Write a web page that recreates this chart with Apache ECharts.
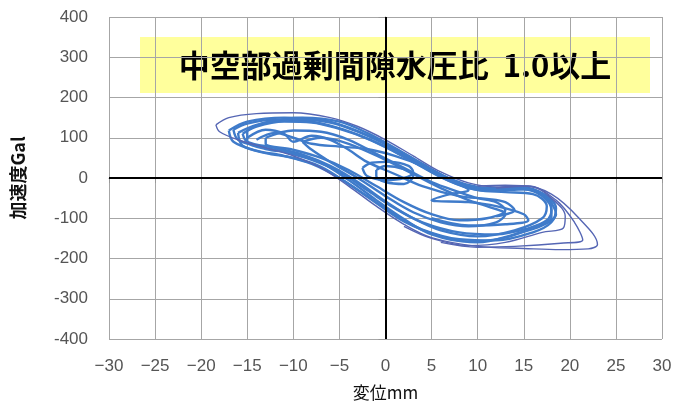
<!DOCTYPE html>
<html>
<head>
<meta charset="utf-8">
<script src="https://cdn.jsdelivr.net/npm/echarts@6/dist/echarts.min.js"></script>
<style>
  html, body { margin: 0; padding: 0; background: #fff; }
  #chart { width: 675px; height: 404px; }
</style>
</head>
<body>
<div id="chart"></div>
<script>
// 軸目盛
var xMin = -30, xMax = 30, xStep = 5;
var yMin = -400, yMax = 400, yStep = 100;

// ループ（変位mm, 加速度Gal）- 図から読み取り
var loopOuter = [[-18.4,132],[-17,150],[-14,160],[-10,162],[-6,150],[-3,128],[0,95],[3,55],[6,15],[9,-12],[12,-22],[15,-20],[18,-40],[21,-100],[23,-165],[22,-176],[19,-178],[15,-175],[10,-170],[5,-148],[2,-115],[-1,-70],[-4,-20],[-7,25],[-10,55],[-13,75],[-16,95],[-18,115],[-18.4,132]];
var loopMain1 = [[-16.5,120],[-15,135],[-12,145],[-9,143],[-6,130],[-3,108],[0,78],[3,40],[6,2],[9,-25],[12,-32],[15,-28],[17,-45],[18,-80],[17.5,-105],[15.5,-125],[12,-140],[8,-135],[4,-110],[1,-75],[-2,-30],[-5,15],[-8,45],[-11,65],[-14,80],[-16,95],[-16.5,120]];
var loopMain2 = [[-15.5,110],[-14,128],[-11,140],[-8,138],[-5,122],[-2,98],[1,65],[4,28],[7,-8],[10,-30],[13,-35],[16,-40],[17.5,-70],[17,-100],[14,-130],[10,-145],[6,-130],[3,-100],[0,-58],[-3,-10],[-6,30],[-9,58],[-12,75],[-15,90],[-15.5,110]];
var loopMain3 = [[-17,118],[-15,140],[-11,150],[-7,145],[-4,125],[-1,95],[2,58],[5,20],[8,-12],[11,-28],[14,-22],[16.5,-32],[18.5,-75],[18,-110],[16,-135],[12,-155],[8,-152],[4,-128],[1,-92],[-2,-45],[-5,0],[-8,35],[-11,55],[-14,68],[-16.5,90],[-17,118]];
var loopMain4 = [[-16,112],[-14,132],[-10,146],[-6,138],[-3,115],[0,85],[3,48],[6,8],[9,-20],[12,-30],[15,-25],[17.5,-50],[18.5,-90],[17,-118],[14,-140],[10,-160],[6,-145],[2,-108],[-1,-62],[-4,-15],[-7,28],[-10,50],[-13,62],[-15.5,80],[-16,112]];
var loopMain5 = [[-15,118],[-13,138],[-9,150],[-5,140],[-2,112],[1,75],[4,35],[7,-2],[10,-22],[13,-26],[16,-30],[18,-62],[18,-98],[16,-122],[13,-148],[9,-158],[5,-140],[2,-102],[-1,-55],[-4,-5],[-7,38],[-10,62],[-13,72],[-15,92],[-15,118]];
var loopRight1 = [[10,-20],[13,-18],[16,-22],[18,-50],[19.5,-95],[19.3,-124],[17,-135],[13,-160],[9,-168],[5,-150],[2,-120]];
var loopRight2 = [[12,-25],[15.5,-20],[18.5,-55],[20.5,-110],[21.4,-154],[19,-162],[14,-170],[10,-172],[6,-160]];
var loopInner1 = [[-13,100],[-10,118],[-7,115],[-4,95],[-1,60],[2,25],[5,-10],[8,-35],[10,-50],[12,-60],[13,-80],[11,-100],[8,-105],[5,-90],[2,-60],[-1,-20],[-4,20],[-7,50],[-10,70],[-13,85],[-13,100]];
var loopInner2 = [[-9,90],[-7,100],[-4,85],[0,45],[3,10],[6,-25],[9,-55],[11,-70],[13,-90],[12,-110],[9,-120],[6,-110],[3,-85],[0,-45],[-3,0],[-6,40],[-8,70],[-9,90]];
var loopInner3 = [[-14,95],[-12,112],[-10,100],[-8,85],[-5,78],[-2,72],[1,55],[4,30],[7,-5],[9,-30],[7,-40],[5,-55],[9,-60],[12,-70],[15,-90],[15.5,-105],[13,-115],[9,-118],[5,-100]];
var loopInner4 = [[-15,100],[-13,120],[-11,110],[-10,90],[-8,105],[-6,95],[-4,70],[-2,40],[1,10],[4,-20],[8,-45],[11,-52],[13,-60],[14,-80],[12,-95]];
var loopOrigin1 = [[-2.5,25],[-1.5,38],[0.5,40],[2.5,30],[3,15],[2,0],[0,-5],[-2,5],[-2.5,25]];
var loopOrigin2 = [[-1,20],[0,30],[2,22],[3,5],[2,-15],[0,-10],[-1,5],[-1,20]];

var mainLoops = [loopMain1, loopMain2, loopMain3, loopMain4, loopMain5, loopInner1, loopInner2, loopInner3, loopInner4, loopOrigin1, loopOrigin2];
var thinLoops = [loopOuter, loopRight1, loopRight2];

var chart = echarts.init(document.getElementById('chart'));

var series = [];
mainLoops.forEach(function (d) {
  series.push({
    type: 'line', data: d, smooth: 0.35, symbol: 'none',
    lineStyle: { color: '#3f7bca', width: 2.4 }
  });
});
thinLoops.forEach(function (d) {
  series.push({
    type: 'line', data: d, smooth: 0.35, symbol: 'none',
    lineStyle: { color: '#5566b4', width: 1.4 }
  });
});
// 原点の十字線
series.push({
  type: 'line', data: [], silent: true,
  markLine: {
    symbol: 'none', silent: true, label: { show: false },
    lineStyle: { color: '#000', width: 2, type: 'solid' },
    data: [{ xAxis: 0 }, { yAxis: 0 }]
  }
});

chart.setOption({
  backgroundColor: '#fff',
  animation: false,
  grid: { left: 109, right: 13, top: 17, bottom: 65, outerBoundsMode: 'none' },
  xAxis: {
    type: 'value', min: xMin, max: xMax, interval: xStep,
    name: '変位mm', nameLocation: 'middle', nameGap: 45,
    nameTextStyle: { color: '#111', fontSize: 17, fontFamily: 'Noto Sans CJK JP' },
    axisLine: { lineStyle: { color: '#999' } },
    axisTick: { show: true, length: 5, lineStyle: { color: '#999' } },
    axisLabel: {
      color: '#555', fontSize: 17, margin: 19,
      formatter: function (v) { return String(v).replace('-', '−'); }
    },
    splitLine: { lineStyle: { color: '#a6a6a6', width: 1 } }
  },
  yAxis: {
    type: 'value', min: yMin, max: yMax, interval: yStep,
    name: '加速度Gal', nameLocation: 'middle', nameGap: 82,
    nameTextStyle: { color: '#111', fontSize: 18, fontWeight: 'bold', fontFamily: 'Noto Sans CJK JP' },
    axisLine: { show: true, lineStyle: { color: '#999' } },
    axisTick: { show: true, length: 7, lineStyle: { color: '#999' } },
    axisLabel: { color: '#555', fontSize: 17, margin: 21, fontFamily: 'Liberation Sans' },
    splitLine: { lineStyle: { color: '#a6a6a6', width: 1 } }
  },
  graphic: [{
    type: 'group', left: 140, top: 37,
    children: [
      { type: 'rect', shape: { x: 0, y: 0, width: 510, height: 56 }, style: { fill: '#ffff9c' } },
      {
        type: 'text', x: 255, y: 28,
        style: {
          text: '中空部過剰間隙水圧比  1.0以上', fill: '#000',
          font: 'bold 31px "Noto Sans CJK JP"', align: 'center', verticalAlign: 'middle'
        }
      }
    ]
  }],
  series: series
});
</script>
</body>
</html>
